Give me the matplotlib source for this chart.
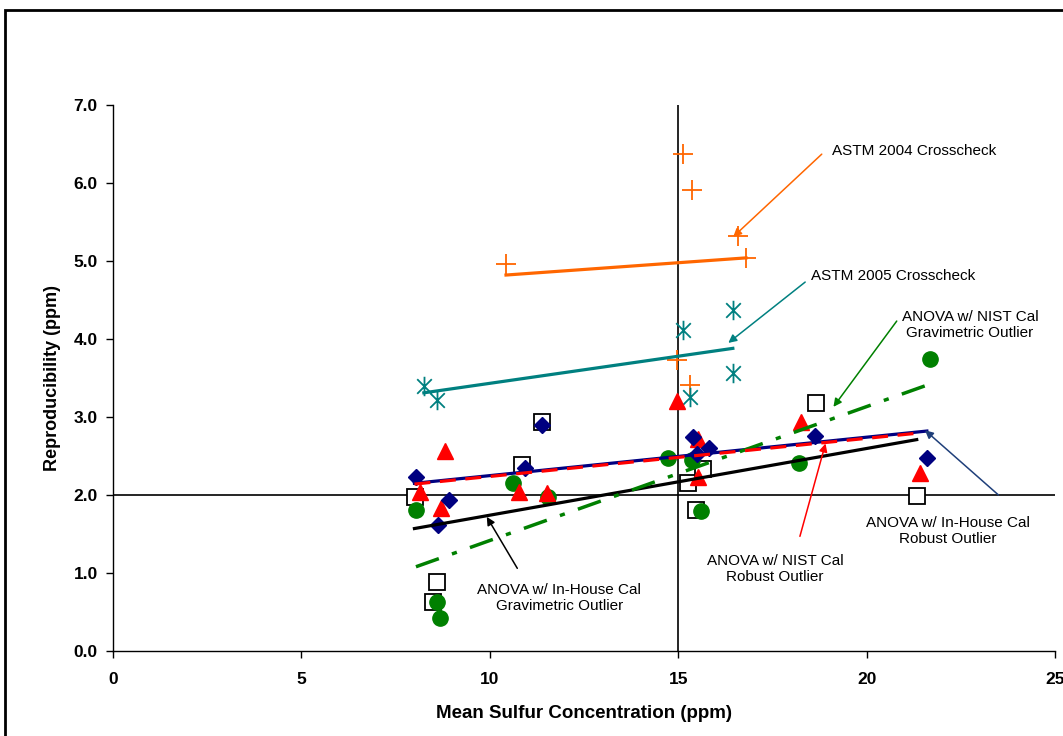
import matplotlib
matplotlib.use("Agg")
import matplotlib.pyplot as plt
from matplotlib.path import Path
from matplotlib.patches import Rectangle

plt.rcParams['font.family'] = ['Liberation Sans', 'DejaVu Sans']

# ---------------- data ----------------
astm2004_x = [10.43, 15.13, 15.37, 16.60, 16.80, 14.96, 15.31]
astm2004_y = [4.96, 6.37, 5.91, 5.32, 5.04, 3.73, 3.41]

astm2005_x = [8.25, 8.60, 15.13, 16.45, 16.45, 15.31]
astm2005_y = [3.40, 3.22, 4.12, 4.37, 3.56, 3.26]

inhouse_robust_x = [8.04, 8.63, 8.93, 10.93, 11.38, 15.40, 15.49, 15.83, 18.63, 21.60]
inhouse_robust_y = [2.23, 1.61, 1.94, 2.35, 2.90, 2.74, 2.53, 2.60, 2.76, 2.47]

nist_robust_x = [8.15, 8.70, 8.81, 10.78, 11.51, 14.98, 15.53, 15.53, 18.26, 21.42]
nist_robust_y = [2.04, 1.83, 2.56, 2.04, 2.02, 3.20, 2.72, 2.23, 2.93, 2.28]

nist_grav_x = [8.04, 8.59, 8.68, 10.61, 11.55, 14.74, 15.36, 15.61, 18.21, 21.67]
nist_grav_y = [1.81, 0.63, 0.42, 2.15, 1.97, 2.48, 2.45, 1.79, 2.41, 3.75]

inhouse_grav_x = [8.01, 8.50, 8.59, 10.85, 11.38, 15.27, 15.47, 15.65, 18.66, 21.33]
inhouse_grav_y = [1.98, 0.63, 0.88, 2.38, 2.94, 2.15, 1.81, 2.33, 3.18, 1.99]

# trend line end points ([x0, x1], [y0, y1])
trend_astm2004 = ([10.43, 16.80], [4.82, 5.04])
trend_astm2005 = ([8.25, 16.45], [3.31, 3.88])
trend_inhouse_grav = ([8.00, 21.33], [1.57, 2.71])
trend_inhouse_robust = ([8.00, 21.60], [2.15, 2.82])
trend_nist_robust = ([8.00, 21.30], [2.14, 2.79])
trend_nist_grav = ([8.04, 21.67], [1.08, 3.42])

x_ticks = [0, 5, 10, 15, 20, 25]
y_ticks = [0, 1, 2, 3, 4, 5, 6, 7]

# ---------------- figure ----------------
fig = plt.figure(figsize=(10.63, 7.36), dpi=100)
fig.patches.append(Rectangle((0.005, -0.05), 1.2, 1.05 - 10 / 736, transform=fig.transFigure,
                             fill=False, edgecolor='black', linewidth=2.0, zorder=10))
ax = fig.add_axes([113 / 1063, 1 - 651 / 736, (1055 - 113) / 1063, (651 - 105) / 736])
ax.set_xlim(0, 25)
ax.set_ylim(0, 7)

ax.axhline(2.0, color='black', lw=1.2, zorder=1)
ax.axvline(15.0, color='black', lw=1.2, zorder=1)

orange = '#FF6600'
teal = '#008080'
navy = '#000080'
red = '#FF0000'
green = '#008000'

star = Path([(0, -1), (0, 1), (-0.75, -0.75), (0.75, 0.75), (-0.75, 0.75), (0.75, -0.75)],
            [Path.MOVETO, Path.LINETO, Path.MOVETO, Path.LINETO, Path.MOVETO, Path.LINETO])

ax.plot(astm2004_x, astm2004_y, ls='none', marker='+', ms=14, mew=1.3, color=orange, zorder=3)
ax.plot(astm2005_x, astm2005_y, ls='none', marker=star, ms=14, mew=1.3, color=teal,
        markerfacecolor='none', zorder=3)
ax.plot(inhouse_grav_x, inhouse_grav_y, ls='none', marker='s', ms=11, mew=1.3,
        markerfacecolor='white', markeredgecolor='black', zorder=3)
ax.plot(nist_grav_x, nist_grav_y, ls='none', marker='o', ms=11, color=green, zorder=3)
ax.plot(nist_robust_x, nist_robust_y, ls='none', marker='^', ms=12, color=red, zorder=4)
ax.plot(inhouse_robust_x, inhouse_robust_y, ls='none', marker='D', ms=8.5, color=navy, zorder=4)

ax.plot(*trend_astm2004, color=orange, lw=2.3, zorder=5)
ax.plot(*trend_astm2005, color=teal, lw=2.3, zorder=5)
ax.plot(*trend_inhouse_grav, color='black', lw=2.3, zorder=5)
ax.plot(*trend_inhouse_robust, color=navy, lw=2.3, zorder=5)
ax.plot(*trend_nist_robust, color=red, lw=2.3, ls=(0, (5, 3)), zorder=6)
ax.plot(*trend_nist_grav, color=green, lw=2.5, ls=(0, (7, 4, 1.5, 4)), zorder=5)

# annotations
def note(text, xy, xytext_arrow, textpos, color):
    ax.annotate('', xy=xy, xytext=xytext_arrow,
                arrowprops=dict(arrowstyle='-|>', color=color, lw=1.1, mutation_scale=12,
                                shrinkA=0, shrinkB=0),
                annotation_clip=False, zorder=7)
    ax.text(*textpos, text, ha='center', va='center', fontsize=11, color='black',
            linespacing=1.15, zorder=7)

note('ASTM 2004 Crosscheck', (16.46, 5.31), (18.81, 6.37), (21.27, 6.41), orange)
note('ASTM 2005 Crosscheck', (16.33, 3.95), (18.37, 4.73), (20.71, 4.81), teal)
note('ANOVA w/ NIST Cal\nGravimetric Outlier', (19.12, 3.13), (20.80, 4.23), (22.74, 4.18), green)
note('ANOVA w/ In-House Cal\nRobust Outlier', (21.55, 2.83), (23.50, 2.00), (22.16, 1.54), '#1F3F7A')
note('ANOVA w/ NIST Cal\nRobust Outlier', (18.91, 2.66), (18.23, 1.47), (17.57, 1.05), red)
note('ANOVA w/ In-House Cal\nGravimetric Outlier', (9.92, 1.72), (10.73, 1.06), (11.84, 0.68), 'black')

# axes styling
for s in ['top', 'right']:
    ax.spines[s].set_visible(False)
for s in ['left', 'bottom']:
    ax.spines[s].set_linewidth(1.0)
ax.set_xticks(x_ticks)
ax.set_yticks(y_ticks)
ax.set_xticklabels([str(v) for v in x_ticks])
ax.set_yticklabels([f'{v:.1f}' for v in y_ticks])
ax.tick_params(direction='out', length=5, width=1, labelsize=12.5, pad=6)
for lab in ax.get_xticklabels() + ax.get_yticklabels():
    lab.set_fontweight('bold')
ax.tick_params(axis='x', pad=10)
ax.set_xlabel('Mean Sulfur Concentration (ppm)', fontsize=13.5, fontweight='bold', labelpad=13)
ax.set_ylabel('Reproducibility (ppm)', fontsize=13, fontweight='bold', labelpad=9)

fig.savefig('out.png', dpi=100)
